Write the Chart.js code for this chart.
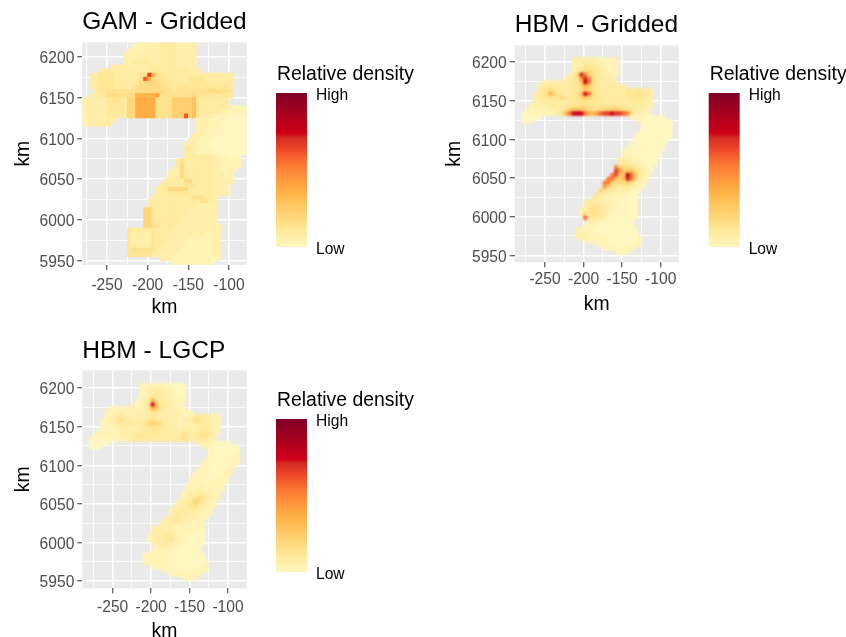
<!DOCTYPE html>
<html>
<head>
<meta charset="utf-8">
<script src="https://cdn.jsdelivr.net/npm/chart.js@4"></script>
<style>
html,body{margin:0;padding:0;background:#fff;width:846px;height:637px;overflow:hidden}
canvas{position:absolute;display:block;filter:blur(0.4px)}
</style>
</head>
<body>
<canvas id="c1" width="430" height="325" style="left:0;top:0"></canvas>
<canvas id="c2" width="416" height="325" style="left:430px;top:0"></canvas>
<canvas id="c3" width="430" height="325" style="left:0;top:325px"></canvas>
<script>
// Column centres in km (every cell is 5 km wide)
const columnX = [-277.5,-272.5,-267.5,-262.5,-257.5,-252.5,-247.5,-242.5,-237.5,-232.5,-227.5,-222.5,-217.5,-212.5,-207.5,-202.5,-197.5,-192.5,-187.5,-182.5,-177.5,-172.5,-167.5,-162.5,-157.5,-152.5,-147.5,-142.5,-137.5,-132.5,-127.5,-122.5,-117.5,-112.5,-107.5,-102.5,-97.5,-92.5,-87.5,-82.5,-77.5];
const xTicks = [-275,-250,-225,-200,-175,-150,-125,-100,-75];
const yTicks = [5950,5975,6000,6025,6050,6075,6100,6125,6150,6175,6200];
const xLabelled = [-250,-200,-150,-100];
const yLabelled = [5950,6000,6050,6100,6150,6200];
// Rows: [y centre in km, first column, density level per cell (base 36, 0 = low, z = high)]
const gamRows = [
[6217.5,13,"112222333322222"],[6212.5,12,"1112222333322222"],[6207.5,11,"22112222333322222"],
[6202.5,10,"222222222333322222"],[6197.5,10,"222223222333322222"],[6192.5,10,"223333322333322222"],
[6187.5,7,"333322222333333322222"],[6182.5,4,"3333333332233343333333222"],
[6177.5,2,"33444433333345nc5433333333333333333"],
[6172.5,2,"3344443333335ld65443333344443333333"],
[6167.5,2,"33444433333466776544333344443333333"],
[6162.5,2,"33444433334566666554344444444444443"],
[6157.5,3,"3445555555666666655444555555666554"],
[6152.5,2,"33346665566ccccde555555556544444443"],
[6147.5,0,"2222224444377ddddd555588888a43333333"],
[6142.5,0,"2222224444377ddddd555588888a43333333"],
[6137.5,0,"2222224444377ddddd555588888a4333333211111"],
[6132.5,0,"2222224444377ddddd555588888a4333331111111"],
[6127.5,0,"2222223333277ddddd5555888l8a3222111100000"],
[6122.5,0,"22222233"],[6122.5,28,"2221111000000"],
[6117.5,0,"2222223"],[6117.5,28,"2221110000000"],
[6112.5,28,"2221110000000"],[6107.5,28,"2211100000000"],[6102.5,27,"22211100000000"],
[6097.5,26,"221111000000000"],[6092.5,25,"2221110000000000"],[6087.5,25,"3321111000000000"],
[6082.5,25,"3321111100000000"],[6077.5,25,"33333332111000"],[6072.5,23,"3533333332211111"],
[6067.5,23,"3633333332211111"],[6062.5,22,"2363333333221111"],[6057.5,21,"2226333333322211"],
[6052.5,21,"2226433333322211"],[6047.5,20,"33333663333332222"],[6042.5,19,"33333344433332222"],
[6037.5,18,"333666663333332222"],[6032.5,18,"333444443333333222"],[6027.5,17,"3333333333555332"],
[6022.5,16,"33333333333335533"],[6017.5,16,"33333333333322222"],[6012.5,15,"773333333332222222"],
[6007.5,15,"773333333332222222"],[6002.5,15,"773333333222222222"],[5997.5,15,"773333333222222222"],
[5992.5,15,"7755333322222222222"],[5987.5,11,"43333343333222222222222"],[5982.5,11,"42222243332222222221122"],
[5977.5,11,"42222243332222211111122"],[5972.5,11,"42222243332222111111122"],[5967.5,11,"43333343322222111111122"],
[5962.5,11,"45555543322221111111122"],[5957.5,11,"44444433222211111111122"],[5952.5,19,"222111111111111"],
[5947.5,22,"1111111111"]
];
const hbmGriddedRows = [
[6203.5,13,"222222111111"],[6198.5,13,"222333221111"],[6193.5,13,"223544322111"],[6188.5,13,"234675432211"],
[6183.5,12,"236pi75332211"],[6178.5,11,"2335fpi643322"],[6173.5,5,"22333333459qj6433322"],
[6168.5,4,"233433333447c9543333332"],[6163.5,4,"334643333446985433333334444432"],
[6158.5,3,"2346c7443345aqk6433333334445432"],[6153.5,3,"2334555743457a75443333333444432"],
[6148.5,3,"2233333333445554433333333343332"],[6143.5,2,"12222333334445544444444433333322"],
[6138.5,1,"1111122233579a986556677865433322"],[6133.5,0,"00111111235cjqrqjdcfknoqonkh62211"],
[6128.5,0,"00000"],[6128.5,28,"111100000"],[6123.5,0,"000"],[6123.5,30,"100000000"],
[6118.5,31,"00000000"],[6113.5,31,"00000000"],[6108.5,30,"000000000"],[6103.5,29,"0000000000"],
[6098.5,29,"000000000"],[6093.5,28,"000000000"],[6088.5,27,"1000000000"],[6083.5,26,"1100000000"],
[6078.5,26,"1110000000"],[6073.5,25,"2221110000"],[6068.5,25,"3433211000"],[6063.5,24,"i866532100"],
[6058.5,24,"og8ab73210"],[6053.5,23,"jm9ask9421"],[6048.5,22,"jj98apj8311"],[6043.5,21,"ii866786311"],
[6038.5,21,"f8543443210"],[6033.5,20,"85332222110"],[6028.5,19,"53221111100"],[6023.5,18,"432211110000"],
[6018.5,16,"33333221100000"],[6013.5,16,"33444321000000"],[6008.5,15,"234554321000000"],
[6003.5,15,"244554310000000"],[5998.5,16,"k4444210000000"],[5993.5,17,"332110000000"],
[5988.5,16,"1111000000000"],[5983.5,14,"2111100000000000"],[5978.5,14,"2221100000000000"],
[5973.5,14,"22211111000000001"],[5968.5,16,"111111000000001"],[5963.5,19,"111100000011"],
[5958.5,21,"11110011"],[5953.5,24,"1111"]
];
const hbmLgcpRows = [
[6203.5,13,"111111110000"],[6198.5,13,"111222111000"],[6193.5,13,"112232221100"],[6188.5,13,"112343222110"],
[6183.5,12,"1123c43221111"],[6178.5,11,"11125q9432211"],[6173.5,5,"11111221124da4322111"],
[6168.5,4,"11122112222355322221111"],[6163.5,4,"112332212223332222221123443221"],
[6158.5,3,"1123553322234543222211235532221"],[6153.5,3,"1112333432346876322211223333221"],
[6148.5,3,"1111222222334554322212222233321"],[6143.5,2,"11111122223333443333223332344321"],
[6138.5,1,"01111112223444433333333543345542"],[6133.5,0,"000000011123443333333334543333322"],
[6128.5,0,"00000"],[6128.5,28,"222110000"],[6123.5,0,"000"],[6123.5,30,"110000000"],
[6118.5,31,"11000000"],[6113.5,31,"10000001"],[6108.5,30,"100000011"],[6103.5,29,"1100000011"],
[6098.5,29,"110000011"],[6093.5,28,"111000011"],[6088.5,27,"1110000011"],[6083.5,26,"1110000111"],
[6078.5,26,"1111001111"],[6073.5,25,"1111111111"],[6068.5,25,"1122211111"],[6063.5,24,"1222332111"],
[6058.5,24,"2233543211"],[6053.5,23,"2234864211"],[6048.5,22,"22334643211"],[6043.5,21,"22333433211"],
[6038.5,21,"23332222111"],[6033.5,20,"22333222111"],[6028.5,19,"22343221111"],[6023.5,18,"223322111111"],
[6018.5,16,"22222211111111"],[6013.5,16,"22333211111000"],[6008.5,15,"122234321100000"],
[6003.5,15,"122334421100000"],[5998.5,16,"12233211000000"],[5993.5,17,"122211000000"],
[5988.5,16,"1111110000000"],[5983.5,14,"1111110000000000"],[5978.5,14,"1111110000000000"],
[5973.5,14,"11111100000000001"],[5968.5,16,"111110000000011"],[5963.5,19,"111100001111"],
[5958.5,21,"11111111"],[5953.5,24,"1111"]
];
// Colour scale of the legend: [position 0..1, colour]
const colourStops = [[0,"#FFF7BF"],[0.13,"#FFE592"],[0.35,"#FEB547"],[0.53,"#FD7A34"],[0.63,"#F04A28"],[0.71,"#D42A22"],[0.74,"#CF0018"],[1,"#7F0026"]];
const legendLabels = ["Relative density","High","Low"];
const axisLabel = "km";

function hexToRgb(h){return [1,3,5].map(i=>parseInt(h.substr(i,2),16));}
function colourFor(t){
  for(let i=1;i<colourStops.length;i++){
    const [t1,c1]=colourStops[i];
    if(t<=t1){
      const [t0,c0]=colourStops[i-1], a=(t-t0)/(t1-t0), p=hexToRgb(c0), q=hexToRgb(c1);
      return `rgb(${p.map((v,j)=>Math.round(v+(q[j]-v)*a)).join(",")})`;
    }
  }
  return colourStops[colourStops.length-1][1];
}
function toCells(rows){
  const cells=[];
  rows.forEach(([y,start,levels])=>{
    [...levels].forEach((ch,i)=>{
      if(start+i<columnX.length) cells.push({x:columnX[start+i],y,v:parseInt(ch,36)/35});
    });
  });
  return cells;
}
const FONT='"Liberation Sans", Arial, sans-serif';
const panelPlugin={
  id:'panel',
  beforeDraw(chart,args,o){
    const a=chart.chartArea,ctx=chart.ctx;
    ctx.save();ctx.fillStyle='#EAEAEA';ctx.fillRect(a.left,a.top,a.right-a.left,a.bottom-a.top);ctx.restore();
  },
  // The cells are drawn by the library on a layer, then laid on the panel softened.
  beforeDatasetsDraw(chart){
    const off=document.createElement('canvas');
    off.width=chart.width;off.height=chart.height;
    chart.$layer=off;
    chart.getDatasetMeta(0).controller._ctx=off.getContext('2d');
  },
  afterDatasetsDraw(chart,args,o){
    const a=chart.chartArea,ctx=chart.ctx;
    ctx.save();
    ctx.beginPath();ctx.rect(a.left,a.top,a.right-a.left,a.bottom-a.top);ctx.clip();
    ctx.filter=`blur(${o.soften}px)`;
    ctx.drawImage(chart.$layer,0,0);
    ctx.restore();
  },
  afterDraw(chart,args,o){
    const ctx=chart.ctx;ctx.save();
    const g=ctx.createLinearGradient(0,o.barBottom,0,o.barTop);
    colourStops.forEach(([t,c])=>g.addColorStop(t,c));
    ctx.fillStyle=g;ctx.fillRect(o.barX,o.barTop,31,o.barBottom-o.barTop);
    ctx.fillStyle='#000';ctx.textBaseline='middle';ctx.textAlign='left';
    ctx.font=`19.4px ${FONT}`;ctx.fillText(legendLabels[0],o.barX+1,o.barTop-18);
    ctx.font=`15.6px ${FONT}`;
    ctx.fillText(legendLabels[1],o.barX+40,o.barTop+2.5);
    ctx.fillText(legendLabels[2],o.barX+40,o.barBottom+2.5);
    ctx.restore();
  }
};
function makeChart(id,title,rows,p){
  new Chart(document.getElementById(id),{
    type:'scatter',
    data:{datasets:[{
      data:toCells(rows),
      pointStyle:'rect',
      pointBorderWidth:0,
      pointHoverRadius:0,
      pointRadius(ctx){const s=ctx.chart.scales.x;return (Math.abs(s.getPixelForValue(5)-s.getPixelForValue(0))+0.7)/Math.SQRT2;},
      pointBackgroundColor(ctx){return ctx.raw?colourFor(ctx.raw.v):'#fff';}
    }]},
    options:{
      responsive:false,animation:false,events:[],
      layout:{autoPadding:false,padding:{left:0,top:0,right:p.right,bottom:p.bottom}},
      plugins:{
        legend:{display:false},tooltip:{enabled:false},
        title:{display:true,text:title,align:'start',fullSize:false,color:'#000',
          font:{family:FONT,size:24.5,weight:'normal',lineHeight:1.2},
          padding:{top:p.titleTop,bottom:p.titleBottom}},
        panel:p.legend
      },
      scales:{
        x:{type:'linear',min:p.xMin,max:p.xMax,
          afterBuildTicks(s){s.ticks=xTicks.map(value=>({value}));},
          afterFit(s){s.height=p.xHeight;},
          border:{display:false},
          grid:{color:'#fff',lineWidth:c=>xLabelled.includes(c.tick&&c.tick.value)?1.5:0.8,
            tickColor:c=>xLabelled.includes(c.tick&&c.tick.value)?'#333':'rgba(0,0,0,0)',tickLength:5,tickWidth:1},
          ticks:{autoSkip:false,maxRotation:0,minRotation:0,padding:p.xPad,color:'#4D4D4D',
            font:{family:FONT,size:15.6},
            callback:v=>xLabelled.includes(v)?String(v):''},
          title:{display:true,text:axisLabel,color:'#000',font:{family:FONT,size:19.4,lineHeight:1.2},padding:0}
        },
        y:{type:'linear',min:p.yMin,max:p.yMax,
          afterBuildTicks(s){s.ticks=yTicks.map(value=>({value}));},
          afterFit(s){s.width=p.yWidth;},
          border:{display:false},
          grid:{color:'#fff',lineWidth:c=>yLabelled.includes(c.tick&&c.tick.value)?1.5:0.8,
            tickColor:c=>yLabelled.includes(c.tick&&c.tick.value)?'#333':'rgba(0,0,0,0)',tickLength:5,tickWidth:1},
          ticks:{autoSkip:false,padding:p.yPad,labelOffset:2,color:'#4D4D4D',font:{family:FONT,size:15.6},
            callback:v=>yLabelled.includes(v)?String(v):''},
          title:{display:true,text:axisLabel,color:'#000',font:{family:FONT,size:19.4,lineHeight:1.2},padding:{top:p.yTitleTop,bottom:0}}
        }
      }
    },
    plugins:[panelPlugin]
  });
}
makeChart('c1',"GAM - Gridded",gamRows,{
  right:183.3,bottom:6,xHeight:54,yWidth:82.3,xPad:6,yPad:3,yTitleTop:12,titleTop:8,titleBottom:5,
  xMin:-280.4,xMax:-78.2,yMin:5944.7,yMax:6217.6,
  legend:{barX:276,barTop:93,barBottom:247,soften:0.3}
});
makeChart('c2',"HBM - Gridded",hbmGriddedRows,{
  right:167.3,bottom:9,xHeight:53.7,yWidth:84.7,xPad:3,yPad:3,yTitleTop:13,titleTop:11,titleBottom:5,
  xMin:-289.3,xMax:-76.7,yMin:5940.9,yMax:6221.7,
  legend:{barX:278.7,barTop:93,barBottom:247,soften:1.2}
});
makeChart('c3',"HBM - LGCP",hbmLgcpRows,{
  right:183.3,bottom:7,xHeight:54.7,yWidth:82.3,xPad:5,yPad:3,yTitleTop:12,titleTop:12,titleBottom:4,
  xMin:-289.5,xMax:-75.7,yMin:5940.5,yMax:6223,
  legend:{barX:276,barTop:94,barBottom:247,soften:1.2}
});
</script>
</body>
</html>
